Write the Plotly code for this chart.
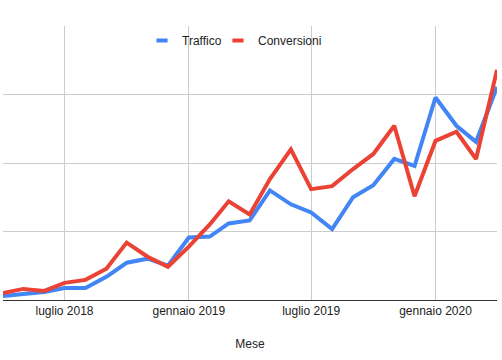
import plotly.graph_objects as go

mesi = ["2018-04-01", "2018-05-01", "2018-06-01", "2018-07-01", "2018-08-01", "2018-09-01",
        "2018-10-01", "2018-11-01", "2018-12-01", "2019-01-01", "2019-02-01", "2019-03-01",
        "2019-04-01", "2019-05-01", "2019-06-01", "2019-07-01", "2019-08-01", "2019-09-01",
        "2019-10-01", "2019-11-01", "2019-12-01", "2020-01-01", "2020-02-01", "2020-03-01",
        "2020-04-01"]
traffico = [59, 81, 118, 176, 176, 338, 544, 603, 500, 912, 926, 1118, 1162, 1600, 1397,
            1279, 1035, 1500, 1676, 2059, 1956, 2956, 2544, 2309, 3110]
conversioni = [103, 162, 132, 250, 294, 456, 838, 632, 485, 779, 1103, 1441, 1250, 1765,
               2200, 1618, 1662, 1912, 2132, 2544, 1515, 2324, 2456, 2059, 3360]
tick_vals = ["2018-07-01", "2019-01-01", "2019-07-01", "2020-01-01"]
tick_text = ["luglio 2018", "gennaio 2019", "luglio 2019", "gennaio 2020"]

BLUE = "#4285F4"
RED = "#EA4335"
FONT = "Arial, Liberation Sans, sans-serif"

fig = go.Figure()
fig.add_trace(go.Scatter(x=mesi, y=traffico, mode="lines", name="Traffico",
                         line=dict(color=BLUE, width=4), showlegend=False))
fig.add_trace(go.Scatter(x=mesi, y=conversioni, mode="lines", name="Conversioni",
                         line=dict(color=RED, width=4), showlegend=False))
# legend entries (one legend each, for exact placement)
for nm, col, lg in [("Traffico", BLUE, "legend"), ("Conversioni", RED, "legend2")]:
    fig.add_trace(go.Scatter(x=[None], y=[None], mode="markers", name=nm, legend=lg,
                             marker=dict(symbol="line-ew", size=8,
                                         line=dict(color=col, width=4))))

leg_common = dict(orientation="h", xanchor="left", y=1.0, yanchor="top",
                  font=dict(size=12, color="#222222", family=FONT),
                  bgcolor="rgba(0,0,0,0)", itemwidth=30)

fig.update_layout(
    width=502, height=360,
    margin=dict(l=3, r=5, t=26, b=60),
    paper_bgcolor="white", plot_bgcolor="white",
    font=dict(family=FONT, size=12, color="#222222"),
    legend=dict(x=0.2814, **leg_common),
    legend2=dict(x=0.4352, **leg_common),
    xaxis=dict(type="date", range=["2018-04-01", "2020-04-01"],
               tickvals=tick_vals, ticktext=tick_text, showgrid=True,
               gridcolor="#cccccc", gridwidth=1, showline=True, linecolor="#333333",
               linewidth=1, ticks="", zeroline=False,
               title=dict(text="Mese", font=dict(size=12, color="#222222"), standoff=22),
               tickfont=dict(size=12, color="#222222")),
    yaxis=dict(range=[0, 4000], dtick=1000, showticklabels=False, showgrid=True,
               gridcolor="#cccccc", gridwidth=1, zeroline=False, showline=False, ticks=""),
)

fig.write_html("out.html", config={"displayModeBar": False},
               post_script="document.body.style.margin='0';document.body.style.overflow='hidden';")
